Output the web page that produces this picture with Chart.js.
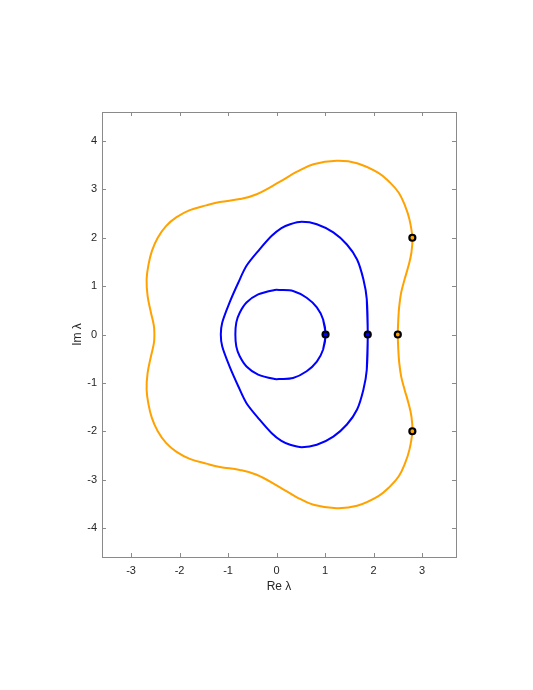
<!DOCTYPE html>
<html><head><meta charset="utf-8">
<script src="https://cdn.jsdelivr.net/npm/chart.js@4"></script>
<style>html,body{margin:0;padding:0;background:#fff}#wrap{width:533px;height:690px}</style>
</head><body><div id="wrap"><canvas id="c" width="533" height="690"></canvas></div>
<script>
const xTicks = [-3, -2, -1, 0, 1, 2, 3];
const yTicks = [-4, -3, -2, -1, 0, 1, 2, 3, 4];

// closed loops; first and last points repeat neighbours so the spline closes smoothly
const outerRe = [2.51, 2.50, 2.51, 2.53, 2.57, 2.64, 2.72, 2.78, 2.80, 2.74, 2.65, 2.52, 2.34, 2.10, 1.66, 1.24, 0.76, 0.41, 0.07, -0.41, -0.76, -1.17, -1.45, -1.79, -2.07, -2.28, -2.45, -2.57, -2.64, -2.68, -2.66, -2.59, -2.53, -2.52,
                 -2.53, -2.59, -2.66, -2.68, -2.64, -2.57, -2.45, -2.28, -2.07, -1.79, -1.45, -1.17, -0.76, -0.41, 0.07, 0.41, 0.76, 1.24, 1.66, 2.10, 2.34, 2.52, 2.65, 2.74, 2.80, 2.78, 2.72, 2.64, 2.57, 2.53, 2.51, 2.50, 2.51];
const outerIm = [-0.31, 0, 0.31, 0.59, 0.87, 1.14, 1.42, 1.69, 2.00, 2.38, 2.66, 2.93, 3.14, 3.34, 3.54, 3.59, 3.52, 3.36, 3.16, 2.90, 2.80, 2.74, 2.67, 2.57, 2.42, 2.24, 2.00, 1.73, 1.45, 1.14, 0.80, 0.45, 0.18, 0,
                 -0.18, -0.45, -0.80, -1.14, -1.45, -1.73, -2.00, -2.24, -2.42, -2.57, -2.67, -2.74, -2.80, -2.90, -3.16, -3.36, -3.52, -3.59, -3.54, -3.34, -3.14, -2.93, -2.66, -2.38, -2.00, -1.69, -1.42, -1.14, -0.87, -0.59, -0.31, 0, 0.31];

const midRe = [1.86, 1.88, 1.86, 1.79, 1.66, 1.45, 1.17, 0.83, 0.52, 0.28, 0.10, -0.10, -0.35, -0.62, -0.79, -0.97, -1.12, -1.15,
               -1.12, -0.97, -0.79, -0.62, -0.35, -0.10, 0.10, 0.28, 0.52, 0.83, 1.17, 1.45, 1.66, 1.79, 1.86, 1.88, 1.86];
const midIm = [-0.73, 0, 0.73, 1.14, 1.55, 1.86, 2.11, 2.28, 2.33, 2.28, 2.20, 2.04, 1.76, 1.42, 1.07, 0.66, 0.25, 0,
               -0.25, -0.66, -1.07, -1.42, -1.76, -2.04, -2.20, -2.28, -2.33, -2.28, -2.11, -1.86, -1.55, -1.14, -0.73, 0, 0.73];

const innerRe = [0.96, 1.01, 0.96, 0.83, 0.62, 0.34, 0.07, -0.04, -0.38, -0.62, -0.76, -0.83, -0.85,
                 -0.83, -0.76, -0.62, -0.38, -0.04, 0.07, 0.34, 0.62, 0.83, 0.96, 1.01, 0.96];
const innerIm = [-0.31, 0, 0.31, 0.56, 0.76, 0.90, 0.92, 0.92, 0.83, 0.66, 0.45, 0.25, 0,
                 -0.25, -0.45, -0.66, -0.83, -0.92, -0.92, -0.90, -0.76, -0.56, -0.31, 0, 0.31];

const orangeMarkRe = [2.50, 2.80, 2.80];
const orangeMarkIm = [0, 2.00, -2.00];
const blueMarkRe = [1.01, 1.88];
const blueMarkIm = [0, 0];

const ORANGE = '#FFA200';
const BLUE = '#0000FF';
const pts = (re, im) => re.map((v, i) => ({x: v, y: im[i]}));

const frame = {
  id: 'frame',
  afterDatasetsDraw(chart) {
    const {ctx, chartArea: a, scales: {x, y}} = chart;
    ctx.save();
    ctx.strokeStyle = '#8a8a8a';
    ctx.lineWidth = 1;
    ctx.beginPath();
    const L = 4;
    x.ticks.forEach(t => {
      const px = Math.round(x.getPixelForValue(t.value)) + 0.5;
      ctx.moveTo(px, a.bottom); ctx.lineTo(px, a.bottom - L);
      ctx.moveTo(px, a.top); ctx.lineTo(px, a.top + L);
    });
    y.ticks.forEach(t => {
      const py = Math.round(y.getPixelForValue(t.value)) + 0.5;
      ctx.moveTo(a.left, py); ctx.lineTo(a.left + L, py);
      ctx.moveTo(a.right, py); ctx.lineTo(a.right - L, py);
    });
    ctx.stroke();
    ctx.strokeRect(Math.round(a.left) + 0.5, Math.round(a.top) + 0.5, Math.round(a.right - a.left), Math.round(a.bottom - a.top));
    ctx.restore();
  }
};

new Chart(document.getElementById('c'), {
  type: 'scatter',
  data: {
    datasets: [
      {data: pts(orangeMarkRe, orangeMarkIm), showLine: false, pointRadius: 3, pointBorderWidth: 2.2, pointBorderColor: '#000', pointBackgroundColor: ORANGE, order: 0},
      {data: pts(blueMarkRe, blueMarkIm), showLine: false, pointRadius: 3, pointBorderWidth: 2.2, pointBorderColor: '#000', pointBackgroundColor: BLUE, order: 0},
      {data: pts(outerRe, outerIm), showLine: true, borderColor: ORANGE, borderWidth: 2, pointRadius: 0, tension: 0.4, order: 1},
      {data: pts(midRe, midIm), showLine: true, borderColor: BLUE, borderWidth: 2, pointRadius: 0, tension: 0.3, order: 1},
      {data: pts(innerRe, innerIm), showLine: true, borderColor: BLUE, borderWidth: 2, pointRadius: 0, tension: 0.3, order: 1}
    ]
  },
  options: {
    responsive: false,
    animation: false,
    layout: {padding: {left: 70, top: 112, right: 77, bottom: 96}},
    plugins: {legend: {display: false}, tooltip: {enabled: false}},
    scales: {
      x: {
        type: 'linear', min: -3.6, max: 3.7,
        afterBuildTicks: s => { s.ticks = xTicks.map(v => ({value: v})); },
        afterFit: s => { s.height = 37; },
        grid: {display: false, drawTicks: false},
        border: {display: false},
        ticks: {padding: 7, color: '#262626', font: {family: 'Liberation Sans', size: 11}, callback: v => String(v)},
        title: {display: true, text: 'Re λ', color: '#262626', padding: 0, font: {family: 'Liberation Sans', size: 12}}
      },
      y: {
        type: 'linear', min: -4.6, max: 4.6,
        afterBuildTicks: s => { s.ticks = yTicks.map(v => ({value: v})); },
        afterFit: s => { s.width = 32; },
        grid: {display: false, drawTicks: false},
        border: {display: false},
        ticks: {padding: 5, color: '#262626', font: {family: 'Liberation Sans', size: 11}, callback: v => String(v)},
        title: {display: true, text: 'Im λ', color: '#262626', padding: 0, font: {family: 'Liberation Sans', size: 12}}
      }
    }
  },
  plugins: [frame]
});
</script></body></html>
